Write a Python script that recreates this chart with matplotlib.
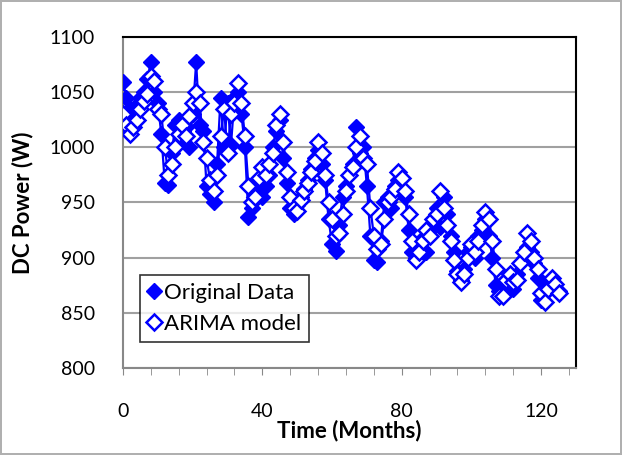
import numpy as np
import matplotlib
matplotlib.use("Agg")
from matplotlib import pyplot as plt
from matplotlib.ticker import MultipleLocator

plt.rcParams['font.family'] = ['Lato', 'DejaVu Sans']

# monthly DC power, measured
original = [1059, 1045, 1035, 1025, 1038, 1045, 1050, 1062, 1077, 1050,
            1040, 1012, 968, 966, 995, 1020, 1025, 1008, 1018, 1000,
            1030, 1077, 1020, 1015, 965, 958, 950, 985, 1045, 1000,
            1040, 1002, 1045, 1050, 1030, 1000, 937, 945, 960, 970,
            955, 965, 975, 1000, 1015, 1025, 990, 968, 945, 940,
            948, 955, 962, 970, 980, 990, 998, 985, 970, 935,
            912, 906, 930, 955, 965, 975, 985, 1018, 995, 1000,
            965, 920, 898, 896, 915, 950, 955, 945, 965, 970,
            962, 955, 925, 905, 900, 910, 918, 905, 925, 930,
            945, 928, 955, 940, 920, 905, 888, 880, 890, 905,
            910, 900, 920, 925, 935, 920, 900, 875, 870, 878,
            880, 875, 872, 885, 895, 900, 910, 905, 895, 882,
            862, 868, 875, 880, 872, 870]

# ARIMA fitted values
arima = [1030, 1020, 1012, 1018, 1025, 1035, 1042, 1048, 1065, 1060,
         1035, 1030, 1000, 975, 985, 1000, 1012, 1020, 1010, 1028,
         1040, 1050, 1040, 1005, 990, 970, 960, 975, 1010, 1035,
         995, 1030, 1040, 1058, 1040, 1010, 965, 950, 955, 972,
         982, 975, 985, 995, 1020, 1030, 1005, 978, 955, 945,
         942, 952, 960, 968, 978, 988, 1005, 995, 975, 950,
         935, 920, 922, 940, 960, 975, 982, 1000, 1010, 990,
         985, 945, 920, 908, 912, 935, 950, 955, 962, 978,
         972, 960, 940, 915, 898, 905, 915, 925, 920, 935,
         940, 960, 945, 930, 915, 898, 885, 878, 885, 900,
         912, 905, 915, 930, 941, 935, 915, 890, 865, 865,
         880, 885, 878, 880, 895, 905, 922, 915, 900, 890,
         868, 860, 872, 882, 876, 868]

months = np.arange(len(original))

fig = plt.figure(figsize=(6.22, 4.55), dpi=100)
fig.patch.set_edgecolor('#b0b0b0')
fig.patch.set_linewidth(1.5)
ax = fig.add_axes([0.1977, 0.1912, 0.7283, 0.7275])

blue = '#0000FF'
ax.plot(months, original, color=blue, lw=1.6, marker='D', ms=8.5,
        mfc=blue, mec=blue, label='Original Data', zorder=3)
ax.plot(months, arima, color=blue, lw=1.6, marker='D', ms=8.5,
        mfc='white', mec=blue, mew=1.8, label='ARIMA model', zorder=4)

ax.set_xlim(0, 130)
ax.set_ylim(800, 1100)
ax.xaxis.set_major_locator(MultipleLocator(40))
ax.xaxis.set_minor_locator(MultipleLocator(8))
ax.yaxis.set_major_locator(MultipleLocator(50))
ax.grid(axis='y', color='#a0a0a0', lw=1.5)
ax.set_axisbelow(True)

for s in ['left', 'bottom']:
    ax.spines[s].set_color('#888888')
    ax.spines[s].set_linewidth(1.5)
for s in ['top', 'right']:
    ax.spines[s].set_color('black')
    ax.spines[s].set_linewidth(1.5)

ax.tick_params(axis='x', which='both', direction='out', length=5,
               color='#888888', labelsize=14, pad=20)
ax.tick_params(axis='y', which='both', length=0, labelsize=14, pad=20)

ax.set_xlabel('Time (Months)', fontsize=16, fontweight='bold', labelpad=0)
ax.set_ylabel('DC Power (W)', fontsize=16, fontweight='bold', labelpad=12)

leg = ax.legend(loc='lower left', bbox_to_anchor=(0.037, 0.08), fontsize=16,
                frameon=True, fancybox=False, handlelength=0.6,
                handletextpad=0.15, borderpad=0.35, labelspacing=0.5,
                borderaxespad=0)
leg.get_frame().set_edgecolor('black')
leg.get_frame().set_linewidth(1.2)
for h in leg.legend_handles:
    h.set_linestyle('none')

fig.savefig('out.png', dpi=100)
